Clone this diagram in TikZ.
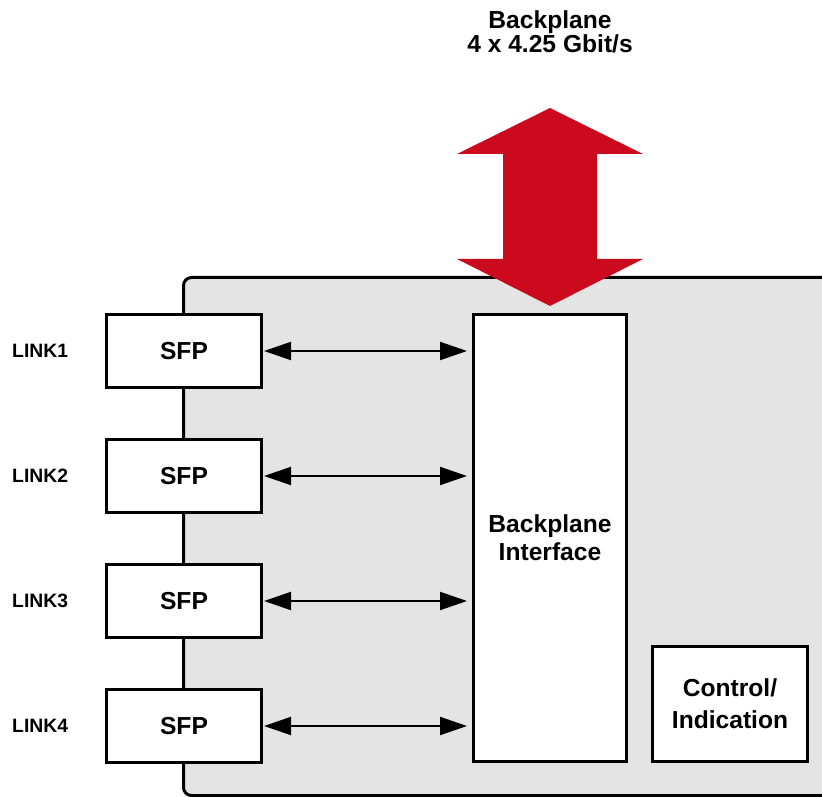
\documentclass[tikz,border=0pt]{standalone}
\usepackage{fontspec}
\setmainfont{Liberation Sans}
\usepackage{tikz}
\usetikzlibrary{arrows.meta}
\definecolor{bpred}{RGB}{204,10,30}
\definecolor{boardgray}{RGB}{228,228,228}

\begin{document}
\begin{tikzpicture}[x=0.03cm, y=-0.03cm,
        box/.style={draw, line width=0.09cm, fill=white, inner sep=0pt, align=center,
            font=\fontsize{21}{25}\selectfont\bfseries},
        sfpbox/.style={box, minimum width=4.65cm, minimum height=2.19cm},
        linklabel/.style={anchor=west, inner sep=0pt, font=\fontsize{16.5}{20}\selectfont\bfseries},
        biarrow/.style={line width=0.06cm,
            {Triangle[length=0.81cm,width=0.54cm]}-{Triangle[length=0.81cm,width=0.54cm]},
            shorten <=0.03cm, shorten >=0.15cm}]
    \useasboundingbox (0,0) rectangle (822,797);
    \begin{scope}
        \clip (0,0) rectangle (822,797);
        \draw[line width=0.09cm, fill=boardgray, rounded corners=0.24cm]
            (183.5,277.5) rectangle (900,795.5);
    \end{scope}
    \fill[bpred] (550,108) -- (643,154) -- (597,154) -- (597,259) -- (643,259)
        -- (550,306) -- (457,259) -- (503,259) -- (503,154) -- (457,154) -- cycle;
    \node[align=center, inner sep=0pt, font=\fontsize{21}{19}\selectfont\bfseries]
        (title) at (550,32) {Backplane\\4 x 4.25 Gbit/s};
    \node[box, minimum width=4.59cm, minimum height=13.41cm, font=\fontsize{21}{24}\selectfont\bfseries]
        (bpi) at (550,538) {Backplane\\Interface};
    \node[box, minimum width=4.65cm, minimum height=3.45cm, font=\fontsize{21}{27}\selectfont\bfseries]
        (ctrl) at (730,704) {Control/\\Indication};
    \foreach \i/\y in {1/351, 2/476, 3/601, 4/726} {
        \node[sfpbox] (sfp\i) at (184,\y) {SFP};
        \node[linklabel] (lbl\i) at (12,\y) {LINK\i};
        \draw[biarrow] (sfp\i.east) -- (bpi.west |- sfp\i.east);
    }
\end{tikzpicture}
\end{document}
